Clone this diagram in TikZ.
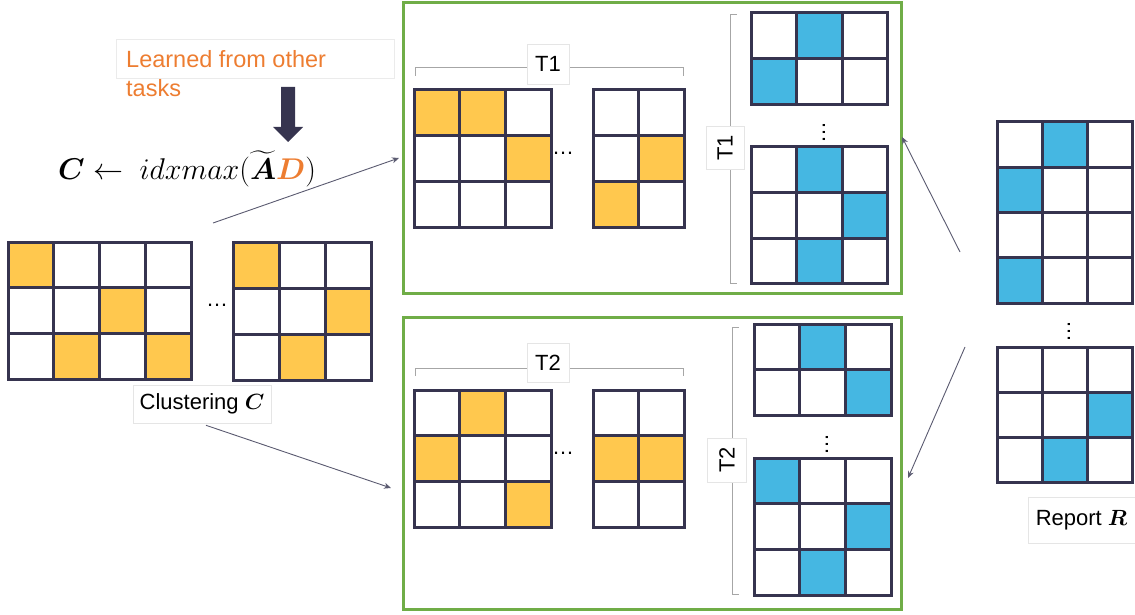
\RequirePackage{fix-cm}
\documentclass[tikz,border=0pt]{standalone}
\usepackage{amsmath}
\usepackage{fontspec}
\setmainfont{Liberation Sans}
\usetikzlibrary{arrows.meta}
\definecolor{ylw}{HTML}{FFC84E}
\definecolor{blu}{HTML}{45B7E2}
\definecolor{navy}{HTML}{36344F}
\definecolor{grn}{HTML}{70AD47}
\definecolor{org}{HTML}{ED7D31}
\definecolor{arr}{HTML}{5A5A70}
\definecolor{brk}{HTML}{A6A6A6}
\newcommand\cgrid[8]{%
  \foreach \cc/\rr in {#8}{\fill[#7] ({#2+(\cc-1)*#6},{#3+(\rr-1)*#6}) rectangle ++(#6,#6);}
  \foreach \i in {0,...,#4}{\draw[gl] ({#2+\i*#6},#3) -- ++(0,{#5*#6});}
  \foreach \j in {0,...,#5}{\draw[gl] (#2,{#3+\j*#6}) -- ++({#4*#6},0);}
  \draw[gl] (#2,#3) rectangle ++({#4*#6},{#5*#6});
  \coordinate (#1-nw) at (#2,#3);
}
\begin{document}
\begin{tikzpicture}[x=1pt,y=-1pt,
  gl/.style={draw=navy,line width=3pt,line join=miter},
  greenbox/.style={draw=grn,line width=3pt,inner sep=0pt,anchor=north west},
  lbl/.style={fill=white,draw=black!10,line width=0.6pt,inner sep=0pt,font=\fontsize{22}{26}\selectfont},
  bracket/.style={draw=brk,line width=1pt},
  conn/.style={draw=arr,line width=0.9pt,-{Stealth[length=7pt,width=6pt]}},
  hdots/.style={inner sep=0pt,font=\fontsize{22}{26}\selectfont},
  vdots/.style={inner sep=0pt,rotate=90,font=\fontsize{22}{26}\selectfont}]
\useasboundingbox (0,0) rectangle (1135,615);

% top-left: learned from other tasks
\node[draw=black!8,line width=0.6pt,minimum width=278pt,minimum height=39pt,anchor=north west,inner sep=0pt] (learnbox) at (116,39) {};
\node[anchor=north west,inner sep=0pt,align=left,text=org,font=\fontsize{23.5}{29}\selectfont] (learned) at (126,50) {Learned from other\\tasks};
\fill[navy] (281,87) -- (295,87) -- (295,127) -- (303,127) -- (288,142) -- (273,127) -- (281,127) -- cycle;
\node[inner sep=0pt,font=\fontsize{30}{36}\selectfont] (formula) at (187,169)
  {$\boldsymbol{C} \leftarrow\ idxmax(\widetilde{\boldsymbol{A}}\textcolor{org}{\boldsymbol{D}})$};

% left clustering grids
\cgrid{L1}{8}{242}{4}{3}{45.75}{ylw}{1/1,3/2,2/3,4/3}
\cgrid{L2}{233}{242}{3}{3}{46}{ylw}{1/1,3/2,2/3}
\node[hdots] (ldots) at (217,305) {…};
\node[lbl,minimum width=138pt,minimum height=38pt] (clab) at (202,404) {Clustering $\boldsymbol{C}$};

% T1 box
\node[greenbox,minimum width=498pt,minimum height=290pt] (t1box) at (402,1.5) {};
\draw[bracket] (415,76) -- (415,68) -- (683,68) -- (683,76);
\node[lbl,minimum width=42pt,minimum height=40pt] (t1h) at (548,64) {T1};
\cgrid{T1A}{414}{90}{3}{3}{45.67}{ylw}{1/1,2/1,3/2}
\node[hdots] (t1dots) at (563,153) {…};
\cgrid{T1B}{593}{90}{2}{3}{45.67}{ylw}{2/2,1/3}
\draw[bracket] (737,15) -- (730,15) -- (730,283) -- (737,283);
\node[lbl,minimum width=43pt,minimum height=38pt,rotate=90] (t1v) at (725,148) {T1};
\cgrid{T1C}{751}{13}{3}{2}{45.6}{blu}{2/1,1/2}
\node[vdots] (t1vd) at (824,132) {…};
\cgrid{T1D}{751}{147}{3}{3}{45.6}{blu}{2/1,3/2,2/3}

% T2 box
\node[greenbox,minimum width=498pt,minimum height=292pt] (t2box) at (402,316) {};
\draw[bracket] (415,376) -- (415,368) -- (683,368) -- (683,376);
\node[lbl,minimum width=42pt,minimum height=39pt] (t2h) at (548,363) {T2};
\cgrid{T2A}{414}{390}{3}{3}{45.67}{ylw}{2/1,1/2,3/3}
\node[hdots] (t2dots) at (563,453) {…};
\cgrid{T2B}{593}{390}{2}{3}{45.67}{ylw}{1/2,2/2}
\draw[bracket] (739,327) -- (732,327) -- (732,594) -- (739,594);
\node[lbl,minimum width=44pt,minimum height=39pt,rotate=90] (t2v) at (727,460) {T2};
\cgrid{T2C}{754}{324}{3}{2}{45.67}{blu}{2/1,3/2}
\node[vdots] (t2vd) at (827,444) {…};
\cgrid{T2D}{754}{458}{3}{3}{45.67}{blu}{1/1,3/2,2/3}

% Report R
\cgrid{R1}{997}{122}{3}{4}{45.3}{blu}{2/1,1/2,1/4}
\node[vdots] (rvd) at (1069,331) {…};
\cgrid{R2}{997}{347}{3}{3}{45.3}{blu}{3/2,2/3}
\node[lbl,minimum width=107pt,minimum height=46pt] (rlab) at (1081.5,520) {Report $\boldsymbol{R}$};

% connectors
\coordinate (a1s) at (213,223);
\coordinate (a1e) at (399,158);
\draw[conn] (a1s) -- (a1e);
\coordinate (a2e) at (391,488);
\path (clab.south) ++(4,2) coordinate (a2s);
\draw[conn] (a2s) -- (a2e);
\coordinate (a3s) at (960,252);
\coordinate (a3e) at (902,137);
\draw[conn] (a3s) -- (a3e);
\coordinate (a4s) at (965,347);
\coordinate (a4e) at (908,478);
\draw[conn] (a4s) -- (a4e);
\end{tikzpicture}
\end{document}
